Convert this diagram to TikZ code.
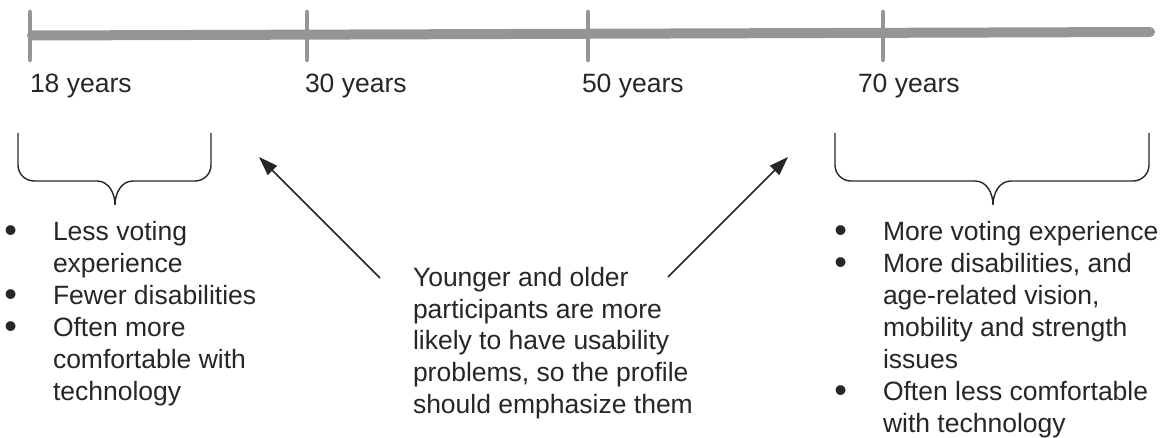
\documentclass[tikz,border=0pt]{standalone}
\usepackage{fontspec}
\setmainfont{Liberation Sans}
\usetikzlibrary{arrows.meta}
\definecolor{axisgray}{HTML}{959595}
\definecolor{ink}{HTML}{262626}
\newcommand\itemdot{\llap{\raisebox{-2.5pt}{\fontsize{36}{32}\selectfont •}\hspace{36pt}}}
\begin{document}
\begin{tikzpicture}[x=1pt,y=-1pt,
  every node/.style={inner sep=0pt, outer sep=0pt, text=ink},
  txt/.style={font=\fontsize{26.5}{32}\selectfont},
  agelabel/.style={txt, anchor=base west},
  tickmark/.style={draw=axisgray, line width=4.5pt, line cap=round},
  bracestyle/.style={draw=ink, line width=1.4pt},
  pointer/.style={draw=ink, line width=1.5pt, -{Triangle[length=19pt,width=13pt]}},
  block/.style={txt, anchor=base west, align=left}]
\useasboundingbox (0,0) rectangle (1167,438);

% timeline
\coordinate (lineL) at (32,35.5);
\coordinate (lineR) at (1150,32);
\draw[axisgray, line width=10pt, line cap=round] (lineL) -- (lineR);
\foreach \x in {30,307,588,883}{
  \draw[tickmark] (\x,12) -- (\x,60);
}

% age labels
\node[agelabel] (a18) at (30,93) {18 years};
\node[agelabel] (a30) at (305,93) {30 years};
\node[agelabel] (a50) at (582,93) {50 years};
\node[agelabel] (a70) at (858,93) {70 years};

% braces
\draw[bracestyle] (18,133) -- (18,165) to[out=-90,in=180] (34,181) -- (97,181)
  to[out=0,in=90] (115,205) to[out=90,in=180] (133,181) -- (195,181)
  to[out=0,in=-90] (211,165) -- (211,133);
\draw[bracestyle] (835,133) -- (835,165) to[out=-90,in=180] (851,181) -- (975,181)
  to[out=0,in=90] (993,205) to[out=90,in=180] (1011,181) -- (1133,181)
  to[out=0,in=-90] (1149,165) -- (1149,133);

% bullet lists (anchored at the baseline of their last line)
\node[block] (young) at (53,400) {\itemdot Less voting\\
experience\\
\itemdot Fewer disabilities\\
\itemdot Often more\\
comfortable with\\
technology};

\node[block] (old) at (883,432) {\itemdot More voting experience\\
\itemdot More disabilities, and\\
age-related vision,\\
mobility and strength\\
issues\\
\itemdot Often less comfortable\\
with technology};

% middle note
\node[block, font=\fontsize{26.5}{31.6}\selectfont] (note) at (413,413) {Younger and older\\
participants are more\\
likely to have usability\\
problems, so the profile\\
should emphasize them};

% arrows
\coordinate (tailL) at (380,278);
\coordinate (tipL) at (259,157);
\coordinate (tailR) at (668,277);
\coordinate (tipR) at (788,157);
\draw[pointer] (tailL) -- (tipL);
\draw[pointer] (tailR) -- (tipR);
\end{tikzpicture}
\end{document}
